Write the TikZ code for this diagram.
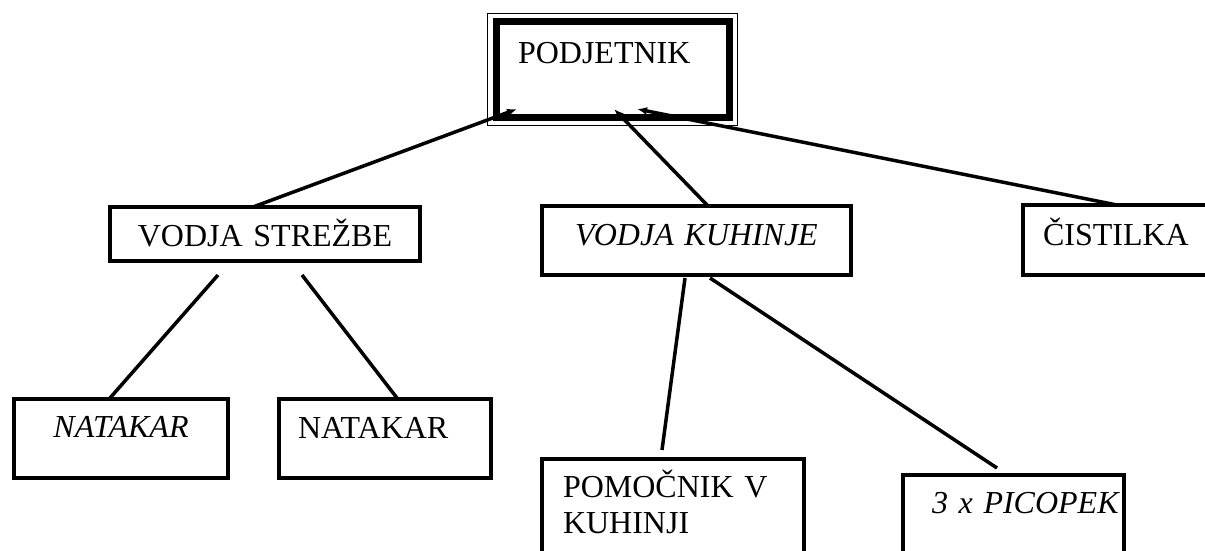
\documentclass[tikz,border=0pt]{standalone}
\usepackage{fontspec}
\setmainfont{Liberation Serif}
\usetikzlibrary{arrows.meta,calc}
\begin{document}
\begin{tikzpicture}[x=1pt,y=-1pt,
  orgbox/.style={draw, rectangle, line width=4pt, outer sep=0pt, inner ysep=0pt,
    anchor=north west, font=\fontsize{32}{36}\selectfont},
  link/.style={line width=3.5pt},
  uplink/.style={link, -{Latex[length=10pt,width=8pt]}}]
\useasboundingbox (0,0) rectangle (1205,550);

% top of the chart: thick frame with a thin outer rule
\node[orgbox, line width=7pt, inner xsep=22pt, text width=189.5pt, align=left,
      text height=42pt, text depth=54pt] (p) at (496,21) {PODJETNIK};
\draw[line width=1.5pt] ($(p.north west)+(-8.5,-7.5)$) rectangle ($(p.south east)+(8,8.5)$);

% second level
\node[orgbox, inner xsep=0pt, text width=310pt, align=center,
      text height=39pt, text depth=15pt] (vs) at (110,207) {VODJA STREŽBE};
\node[orgbox, inner xsep=0pt, text width=309pt, align=center,
      text height=39pt, text depth=30pt] (vk) at (542,206) {\itshape VODJA KUHINJE};
\node[orgbox, inner xsep=20pt, text width=152pt, align=left,
      text height=40pt, text depth=30pt] (ci) at (1023,205) {ČISTILKA};

% third level
\node[orgbox, inner xsep=0pt, text width=214pt, align=center,
      text height=38pt, text depth=41pt] (ni) at (14,399) {\itshape NATAKAR};
\node[orgbox, inner xsep=19pt, text width=174pt, align=left,
      text height=39pt, text depth=40pt] (nu) at (279,399) {NATAKAR};
\node[orgbox, inner xsep=21pt, text width=220pt, align=left,
      text height=38pt, text depth=111pt] (po) at (542,459) {POMOČNIK V\\KUHINJI};
\node[orgbox, inner xsep=29pt, text width=163pt, align=left,
      text height=38pt, text depth=95pt] (pi) at (903,475) {\rlap{\itshape 3 x PICOPEK}};

% links up to the head
\draw[uplink] ($(vs.north west)+(143,0)$) -- ($(p.south west)+(21,-8)$);
\draw[uplink] ($(vk.north west)+(166,0)$) -- ($(p.south west)+(118,-8)$);
\draw[uplink] ($(ci.north west)+(94,0)$) -- ($(p.south west)+(141,-8)$);

% links down to the staff
\draw[link] ($(vs.south west)+(108,14)$) -- ($(ni.north west)+(96,-1)$);
\draw[link] ($(vs.south west)+(192,14)$) -- ($(nu.north west)+(118,-1)$);
\draw[link] ($(vk.south west)+(143,3)$) -- ($(po.north west)+(120,-9)$);
\draw[link] ($(vk.south west)+(168,3)$) -- ($(pi.north west)+(94,-7)$);
\end{tikzpicture}
\end{document}
